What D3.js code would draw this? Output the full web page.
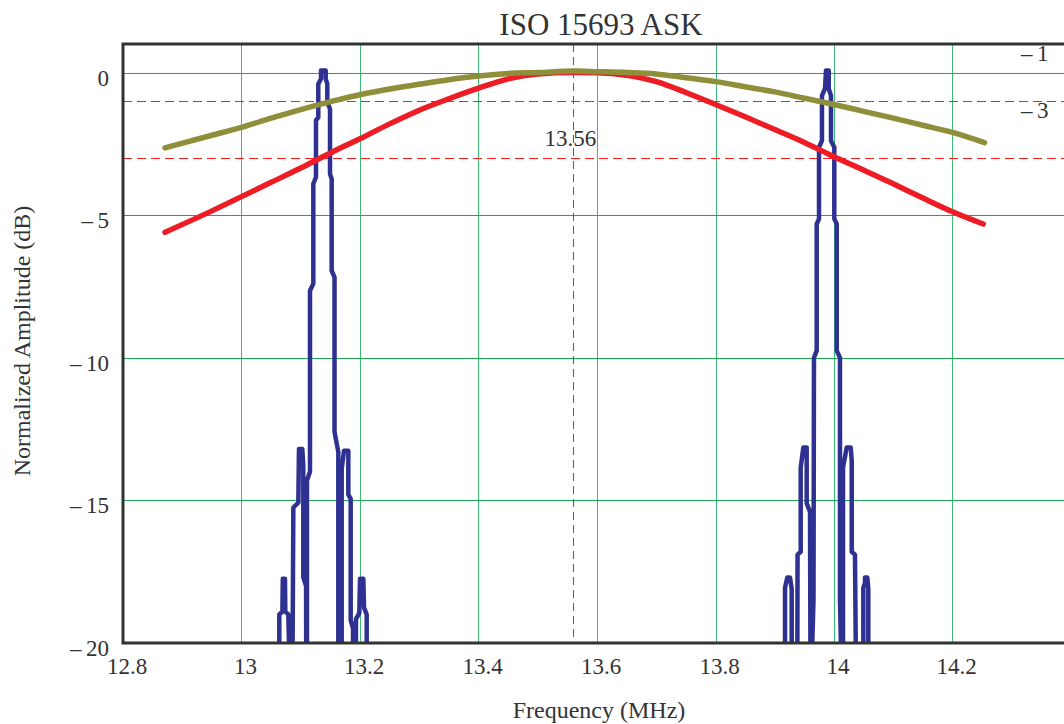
<!DOCTYPE html>
<html>
<head>
<meta charset="utf-8">
<script src="https://cdn.jsdelivr.net/npm/d3@7"></script>
<style>
  body { margin: 0; background: #fff; }
  svg text { font-family: "Liberation Serif", "Times New Roman", serif; fill: #333; }
</style>
</head>
<body>
<div id="chart"></div>
<script>
"use strict";

var chartTitle = "ISO 15693 ASK";
var xLabel = "Frequency (MHz)";
var yLabel = "Normalized Amplitude (dB)";
var xTicks = [12.8, 13, 13.2, 13.4, 13.6, 13.8, 14, 14.2, 14.4];
var yTicks = [0, -5, -10, -15, -20];
var markerLevels = [-1, -3];
var markerFreq = 13.56;

// reader response (red)
var redFreq = [12.871, 12.95, 13.0, 13.05, 13.1, 13.15, 13.2, 13.25, 13.3, 13.35, 13.4, 13.45, 13.5, 13.56,
  13.6, 13.65, 13.7, 13.75, 13.8, 13.85, 13.9, 13.95, 14.0, 14.05, 14.1, 14.15, 14.2, 14.252];
var redDb = [-5.60, -4.85, -4.35, -3.85, -3.35, -2.82, -2.32, -1.80, -1.32, -0.92, -0.55, -0.22, -0.05, 0,
  -0.01, -0.10, -0.32, -0.70, -1.12, -1.55, -2.00, -2.45, -2.95, -3.42, -3.90, -4.40, -4.88, -5.31];

// tag response (olive)
var oliveFreq = [12.871, 12.95, 13.0, 13.05, 13.1, 13.15, 13.2, 13.25, 13.3, 13.35, 13.4, 13.45, 13.5, 13.56,
  13.6, 13.65, 13.7, 13.75, 13.8, 13.85, 13.9, 13.95, 14.0, 14.05, 14.1, 14.15, 14.2, 14.254];
var oliveDb = [-2.64, -2.20, -1.92, -1.60, -1.30, -1.02, -0.78, -0.58, -0.41, -0.25, -0.12, -0.03, 0, 0.05,
  0.03, 0, -0.05, -0.18, -0.32, -0.50, -0.68, -0.90, -1.12, -1.36, -1.60, -1.85, -2.10, -2.46];

// lower subcarrier spectrum (blue)
var lowFreq = [13.0638, 13.0638, 13.0690, 13.0697, 13.0734, 13.0739, 13.0790, 13.0812,
  13.0860, 13.0875, 13.0959, 13.0970, 13.1026, 13.1043, 13.1043, 13.1090, 13.1092,
  13.1105, 13.1105, 13.1156, 13.1156, 13.1212, 13.1212, 13.1257, 13.1257, 13.1296, 13.1296, 13.1342, 13.1342,
  13.1421, 13.1421, 13.1448, 13.1448, 13.1494, 13.1494, 13.1522, 13.1522, 13.1570, 13.1570, 13.1634, 13.1634,
  13.1691, 13.1691, 13.1730, 13.1803, 13.1803, 13.1843, 13.1843, 13.1882, 13.1882,
  13.1932, 13.1932, 13.1988, 13.2000, 13.2056, 13.2068, 13.2113, 13.2113];
var lowDb = [-21, -19.0, -18.9, -17.75, -17.75, -18.9, -19.0, -21,
  -21, -15.25, -15.08, -13.2, -13.2, -13.8, -17.7, -18.0, -21,
  -21, -14.3, -14.0, -7.65, -7.4, -3.9, -3.67, -1.68, -1.57, -0.4, -0.22, 0.07,
  0.07, -0.22, -0.4, -1.04, -1.28, -3.56, -3.73, -6.95, -7.18, -12.6, -13.3, -21,
  -21, -13.9, -13.26, -13.26, -14.8, -14.95, -19.2, -19.5, -21,
  -21, -19.16, -18.95, -17.75, -17.75, -18.76, -19.0, -21];

// upper subcarrier spectrum (blue)
var highFreq = [13.9173, 13.9173, 13.9212, 13.9257, 13.9286, 13.9286,
  13.9381, 13.9385, 13.9438, 13.9438, 13.9482, 13.9539, 13.9539, 13.9595, 13.9603,
  13.9620, 13.9654, 13.9662, 13.9708, 13.9708, 13.9747, 13.9747, 13.9797, 13.9797, 13.9848, 13.9865,
  13.9911, 13.9911, 13.9949, 13.9949, 14.0005, 14.0005, 14.0046, 14.0046, 14.0101, 14.0101, 14.0127,
  14.0152, 14.0152, 14.0214, 14.0282, 14.0299, 14.0299, 14.0354, 14.0371,
  14.0495, 14.0495, 14.0523, 14.0523, 14.0562, 14.0579, 14.0579];
var highDb = [-21, -18.06, -17.7, -17.7, -18.1, -21,
  -21, -16.9, -16.8, -13.85, -13.15, -13.15, -15.1, -15.4, -21,
  -21, -18.5, -10.0, -9.75, -5.31, -5.13, -2.62, -2.39, -0.81, -0.57, 0.07,
  0.07, -0.57, -0.81, -2.39, -2.62, -5.13, -5.31, -9.75, -10.0, -18.5, -21,
  -21, -13.85, -13.15, -13.15, -13.6, -16.8, -16.9, -21,
  -21, -18.06, -17.9, -17.7, -17.7, -18.1, -21];

var width = 1064,
  height = 724,
  plotLeft = 123,
  plotRight = 1071,
  plotTop = 44,
  plotBottom = 643;

var x = d3.scaleLinear().domain([12.8, 14.4]).range([plotLeft, plotRight]);
var y = d3.scaleLinear().domain([-20, 1]).range([plotBottom, plotTop]);

var svg = d3.select("#chart").append("svg")
  .attr("width", width)
  .attr("height", height)
  .style("display", "block");

svg.append("defs").append("clipPath")
  .attr("id", "plot")
  .append("rect")
  .attr("x", plotLeft)
  .attr("y", plotTop)
  .attr("width", plotRight - plotLeft)
  .attr("height", plotBottom - plotTop);

// green grid
svg.selectAll(".vgrid")
  .data(xTicks.slice(1))
  .enter().append("line")
  .attr("class", "vgrid")
  .attr("x1", function(d) { return Math.round(x(d)) + 0.5; })
  .attr("x2", function(d) { return Math.round(x(d)) + 0.5; })
  .attr("y1", plotTop)
  .attr("y2", plotBottom)
  .attr("shape-rendering", "crispEdges")
  .style("stroke", "#3dbb74")
  .style("stroke-width", 1);

svg.selectAll(".hgrid")
  .data(yTicks.slice(0, -1))
  .enter().append("line")
  .attr("class", "hgrid")
  .attr("x1", plotLeft)
  .attr("x2", plotRight)
  .attr("y1", function(d) { return Math.round(y(d)) + 0.5; })
  .attr("y2", function(d) { return Math.round(y(d)) + 0.5; })
  .attr("shape-rendering", "crispEdges")
  .style("stroke", "#1fa653")
  .style("stroke-width", 1);

// red dashed markers
svg.selectAll(".marker")
  .data(markerLevels)
  .enter().append("line")
  .attr("class", "marker")
  .attr("x1", plotLeft)
  .attr("x2", plotRight)
  .attr("y1", function(d) { return Math.round(y(d)) + 0.5; })
  .attr("y2", function(d) { return Math.round(y(d)) + 0.5; })
  .attr("shape-rendering", "crispEdges")
  .style("stroke", "#ff1a1a")
  .style("stroke-width", 1)
  .style("stroke-dasharray", "9,5");

svg.append("line")
  .attr("x1", Math.round(x(markerFreq)) + 0.5)
  .attr("x2", Math.round(x(markerFreq)) + 0.5)
  .attr("y1", plotTop)
  .attr("y2", plotBottom)
  .attr("shape-rendering", "crispEdges")
  .style("stroke", "#ff1a1a")
  .style("stroke-width", 1)
  .style("stroke-dasharray", "8,5");

var line = d3.line()
  .x(function(d) { return x(d[0]); })
  .y(function(d) { return y(d[1]); });

var plot = svg.append("g").attr("clip-path", "url(#plot)");

[[lowFreq, lowDb], [highFreq, highDb]].forEach(function(s) {
  plot.append("path")
    .attr("d", line(d3.zip(s[0], s[1])))
    .style("fill", "none")
    .style("stroke", "#2e3192")
    .style("stroke-width", 4.5)
    .style("stroke-linejoin", "round")
    .style("stroke-linecap", "round");
});

var smooth = d3.line()
  .curve(d3.curveMonotoneX)
  .x(function(d) { return x(d[0]); })
  .y(function(d) { return y(d[1]); });

plot.append("path")
  .attr("d", smooth(d3.zip(redFreq, redDb)))
  .style("fill", "none")
  .style("stroke", "#ee1c25")
  .style("stroke-width", 5.5)
  .style("stroke-linecap", "round");

plot.append("path")
  .attr("d", smooth(d3.zip(oliveFreq, oliveDb)))
  .style("fill", "none")
  .style("stroke", "#8f8f3b")
  .style("stroke-width", 5.5)
  .style("stroke-linecap", "round");

// frame
svg.append("path")
  .attr("d", "M" + plotRight + "," + plotTop + "H" + plotLeft + "V" + plotBottom + "H" + plotRight)
  .style("fill", "none")
  .style("stroke", "#333")
  .style("stroke-width", 3);

function minusLabel(v) {
  return v < 0 ? "\u2013\u2009" + Math.abs(v) : String(v);
}

svg.selectAll(".ytick")
  .data(yTicks)
  .enter().append("text")
  .attr("class", "ytick")
  .attr("text-anchor", "end")
  .attr("x", 109)
  .attr("y", function(d) { return y(d) + 13; })
  .style("font-size", "23px")
  .text(minusLabel);

svg.selectAll(".xtick")
  .data(xTicks.slice(0, -1))
  .enter().append("text")
  .attr("class", "xtick")
  .attr("text-anchor", "middle")
  .attr("x", function(d) { return x(d) + 4; })
  .attr("y", plotBottom + 31)
  .style("font-size", "23px")
  .text(function(d) { return d; });

svg.selectAll(".mlabel")
  .data(markerLevels)
  .enter().append("text")
  .attr("class", "mlabel")
  .attr("x", 1021)
  .attr("y", function(d) { return y(d) - 40; })
  .style("font-size", "23px")
  .text(minusLabel);

svg.append("text")
  .attr("text-anchor", "middle")
  .attr("x", x(markerFreq) - 3)
  .attr("y", y(-3) - 12)
  .style("font-size", "23px")
  .text(markerFreq);

svg.append("text")
  .attr("text-anchor", "middle")
  .attr("x", 601)
  .attr("y", 35)
  .style("font-size", "31px")
  .text(chartTitle);

svg.append("text")
  .attr("text-anchor", "middle")
  .attr("x", 599)
  .attr("y", 718)
  .style("font-size", "24px")
  .text(xLabel);

svg.append("text")
  .attr("text-anchor", "middle")
  .attr("transform", "translate(30,341) rotate(-90)")
  .style("font-size", "24px")
  .text(yLabel);
</script>
</body>
</html>
